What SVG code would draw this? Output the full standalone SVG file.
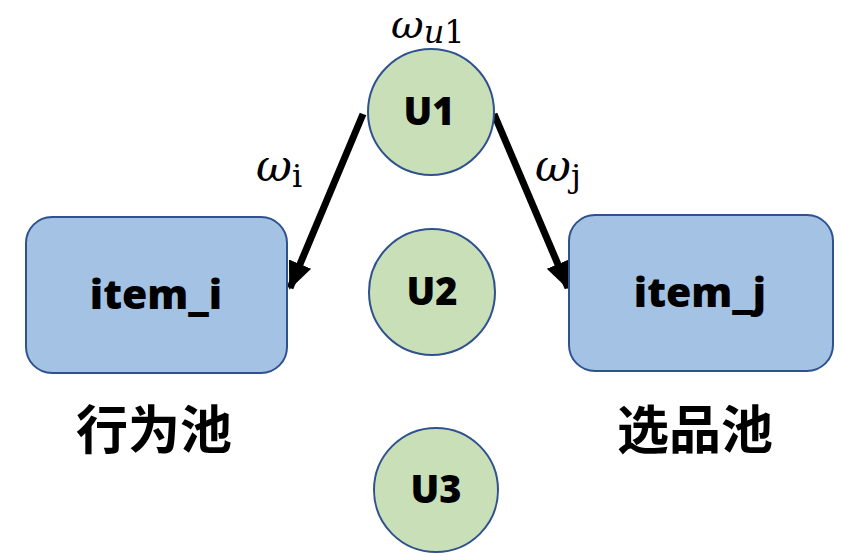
<svg xmlns="http://www.w3.org/2000/svg" width="844" height="560" viewBox="0 0 844 560">
<style>
.box{fill:#A4C2E4;stroke:#2F528F;stroke-width:2}
.circ{fill:#C9DFB8;stroke:#2F528F;stroke-width:2}
.lbl{font-family:"Open Sans","Noto Sans CJK SC",sans-serif;font-weight:800;fill:#000;text-anchor:middle}
.cjk{font-family:"Noto Sans CJK SC",sans-serif;font-weight:bold;fill:#000;text-anchor:middle}
.math{font-family:"DejaVu Serif","Liberation Serif",serif;font-style:italic;fill:#000}
.up{font-family:"DejaVu Serif","Liberation Serif",serif;font-style:normal;fill:#000}
.edge{stroke:#000;stroke-width:7;fill:none}
</style>
<defs>
<marker id="ah" markerUnits="userSpaceOnUse" markerWidth="30" markerHeight="30" viewBox="0 0 30 30" refX="26" refY="15" orient="auto">
<path d="M0,3 L28,15 L0,27 z" fill="#000"/>
</marker>
</defs>
<rect width="844" height="560" fill="#fff"/>
<g id="connectors">
<line class="edge" x1="363" y1="114" x2="290" y2="288" marker-end="url(#ah)"/>
<line class="edge" x1="494" y1="114" x2="568" y2="288" marker-end="url(#ah)"/>
</g>
<g id="item_i">
<rect class="box" x="26" y="217" width="261" height="156" rx="26"/>
<text class="lbl" x="156" y="309" font-size="41">item_i</text>
</g>
<g id="item_j">
<rect class="box" x="569" y="215" width="264" height="156" rx="26"/>
<text class="lbl" x="700" y="307" font-size="41">item_j</text>
</g>
<g id="U1">
<circle class="circ" cx="431" cy="112" r="63"/>
<text class="lbl" x="429" y="125" font-size="38">U1</text>
</g>
<g id="U2">
<circle class="circ" cx="432" cy="292" r="63"/>
<text class="lbl" x="432" y="305" font-size="38">U2</text>
</g>
<g id="U3">
<circle class="circ" cx="436" cy="490" r="62"/>
<text class="lbl" x="436" y="503" font-size="38">U3</text>
</g>
<g id="labels">
<text class="math" x="391" y="38" font-size="40">ω<tspan font-size="32" dy="5">u</tspan><tspan class="up" font-size="32">1</tspan></text>
<text class="math" x="256" y="181" font-size="44">ω<tspan class="up" font-size="32" dy="6">i</tspan></text>
<text class="math" x="535" y="181" font-size="44">ω<tspan class="up" font-size="32" dy="6">j</tspan></text>
<text class="cjk" x="154" y="449" font-size="52">行为池</text>
<text class="cjk" x="695" y="449" font-size="52">选品池</text>
</g>
</svg>
